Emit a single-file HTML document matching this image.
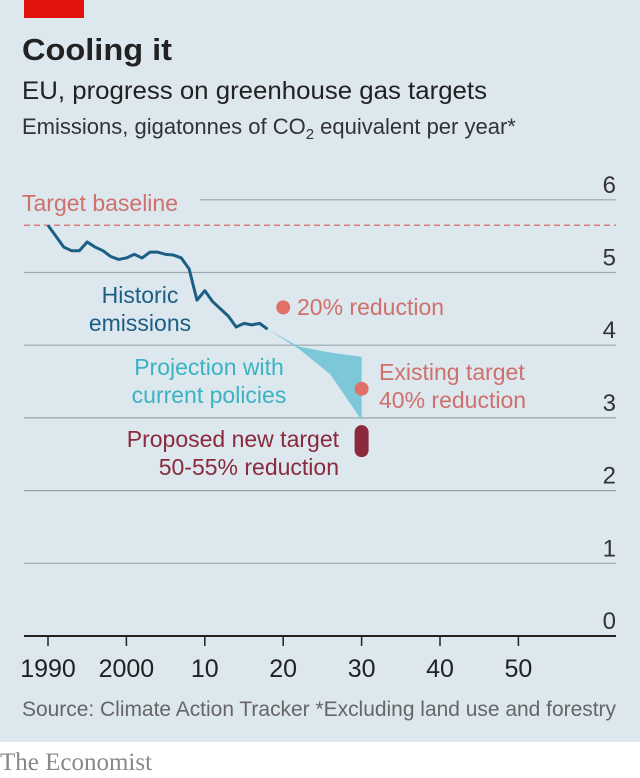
<!DOCTYPE html>
<html><head><meta charset="utf-8"><style>
body{margin:0;width:640px;height:778px;overflow:hidden;background:#fff;font-family:"Liberation Sans",sans-serif}
#panel{position:absolute;left:0;top:0;width:640px;height:742px;background:#dce7ee}
</style></head><body>
<div id="panel"></div>
<svg id="chart" width="640" height="778" style="position:absolute;left:0;top:0">
<rect x="24" y="0" width="60" height="18" fill="#e3120b"/>
<text x="22" y="60" font-size="31" font-weight="bold" fill="#222" textLength="150" lengthAdjust="spacingAndGlyphs">Cooling it</text>
<text x="22" y="99" font-size="25" fill="#222" textLength="465" lengthAdjust="spacingAndGlyphs">EU, progress on greenhouse gas targets</text>
<text x="22" y="134" font-size="22" fill="#333">Emissions, gigatonnes of CO<tspan font-size="15" dy="5">2</tspan><tspan dy="-5"> equivalent per year*</tspan></text>
<g id="grid"></g>
<g id="marks"></g>
<text x="22" y="716" font-size="21" fill="#666" textLength="594" lengthAdjust="spacingAndGlyphs">Source: Climate Action Tracker   *Excluding land use and forestry</text>
<text x="0" y="770" font-size="25" fill="#888" font-family="Liberation Serif,serif">The Economist</text>
</svg>
<script>
const years=[1990,1991,1992,1993,1994,1995,1996,1997,1998,1999,2000,2001,2002,2003,2004,2005,2006,2007,2008,2009,2010,2011,2012,2013,2014,2015,2016,2017,2018];
const emissions=[5.65,5.5,5.35,5.3,5.3,5.42,5.35,5.3,5.22,5.18,5.2,5.25,5.2,5.28,5.28,5.25,5.24,5.2,5.05,4.62,4.75,4.6,4.5,4.4,4.25,4.3,4.28,4.3,4.22];
const projYears=[2018,2022,2026,2030];
const projUpper=[4.22,3.98,3.9,3.84];
const projLower=[4.22,3.95,3.6,2.97];
const yTicks=[0,1,2,3,4,5,6];
const xTicks=[1990,2000,2010,2020,2030,2040,2050];
const xTickLabels=["1990","2000","10","20","30","40","50"];
const baseline=5.65;
const target20=[2020,4.52];
const target40=[2030,3.4];
const proposed=[2030,2.9,2.46];
const NS="http://www.w3.org/2000/svg";
const X=y=>48+(y-1990)*7.84;
const Y=v=>636-72.7*v;
function mk(tag,attrs,parent){const e=document.createElementNS(NS,tag);for(const k in attrs)e.setAttribute(k,attrs[k]);document.getElementById(parent).appendChild(e);return e;}
yTicks.forEach(v=>{
 if(v>0){const l=mk('line',{x1:v==6?200:24,x2:616,y1:Y(v),y2:Y(v),stroke:'#9aa6ad','stroke-width':1.2},'grid');
 
 }
 const t=mk('text',{x:616,y:Y(v)-7,'text-anchor':'end','font-size':24,fill:'#333'},'grid');t.textContent=v;
 
 
});
const ax=mk('line',{x1:24,x2:616,y1:Y(0),y2:Y(0),stroke:'#222','stroke-width':2},'grid');


xTicks.forEach((yr,i)=>{
 const tk=mk('line',{x1:X(yr),x2:X(yr),y1:Y(0),y2:Y(0)+10,stroke:'#222','stroke-width':1.5},'grid');
 
 
 const t=mk('text',{x:X(yr),y:Y(0)+41,'text-anchor':'middle','font-size':25,fill:'#222'},'grid');t.textContent=xTickLabels[i];
 
 
});
const bl=mk('line',{x1:24,x2:616,y1:Y(baseline),y2:Y(baseline),stroke:'#d97b7b','stroke-width':1.5,'stroke-dasharray':'6,4'},'marks');


let d='M'+projYears.map((y,i)=>X(y)+','+Y(projUpper[i])).join('L');
for(let i=projYears.length-1;i>=0;i--)d+='L'+X(projYears[i])+','+Y(projLower[i]);
const band=mk('path',{d:d+'Z',fill:'#7cc8d8'},'marks');


const hl=mk('path',{d:'M'+years.map((y,i)=>X(y)+','+Y(emissions[i])).join('L'),fill:'none',stroke:'#1d5e84','stroke-width':3,'stroke-linejoin':'round'},'marks');


const d1=mk('circle',{cx:X(target20[0]),cy:Y(target20[1]),r:7,fill:'#e07068'},'marks');


const d2=mk('circle',{cx:X(target40[0]),cy:Y(target40[1]),r:7,fill:'#e07068'},'marks');


const pb=mk('rect',{x:X(proposed[0])-7,y:Y(proposed[1]),width:14,height:Y(proposed[2])-Y(proposed[1]),rx:7,fill:'#8a2a3c'},'marks');


const labels=[
 ['Target baseline',22,211,'start','#d0706c','baseline-label'],
 ['Historic',140,303,'middle','#1d5e84','historic-label-1'],
 ['emissions',140,331,'middle','#1d5e84','historic-label-2'],
 ['20% reduction',297,315,'start','#d0706c','target-20-label'],
 ['Projection with',209,375,'middle','#3bb3c3','projection-label-1'],
 ['current policies',209,403,'middle','#3bb3c3','projection-label-2'],
 ['Existing target',379,380,'start','#d0706c','target-40-label-1'],
 ['40% reduction',379,408,'start','#d0706c','target-40-label-2'],
 ['Proposed new target',339,447,'end','#8a2a3c','proposed-label-1'],
 ['50-55% reduction',339,475,'end','#8a2a3c','proposed-label-2']];
labels.forEach(a=>{const t=mk('text',{x:a[1],y:a[2],'text-anchor':a[3],'font-size':23,fill:a[4]},'marks');t.textContent=a[0];
 
 });
</script>
</body></html>
